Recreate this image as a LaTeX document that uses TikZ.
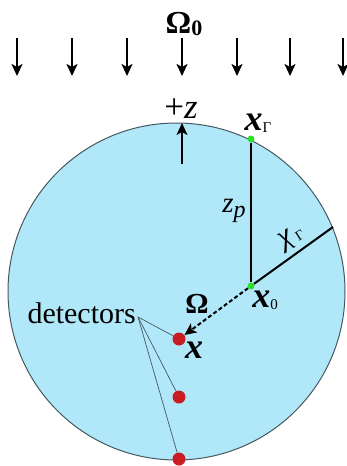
\documentclass[tikz,border=0pt]{standalone}
\usepackage{fontspec}
\setmainfont{Liberation Serif}
\usetikzlibrary{arrows.meta}
\definecolor{water}{RGB}{176,232,250}
\definecolor{rim}{RGB}{70,88,95}
\definecolor{detred}{RGB}{200,30,35}
\definecolor{srcgreen}{RGB}{40,225,40}
\newcommand{\fs}[1]{\fontsize{#1}{#1}\selectfont}
\begin{document}
\begin{tikzpicture}[x=1pt,y=-1pt,
  beam/.style={line width=2pt,-{Stealth[length=12pt,width=11pt,inset=3pt]}},
  pathline/.style={line width=2pt},
  leader/.style={rim,line width=0.7pt},
  srcdot/.style={circle,fill=srcgreen,inner sep=0pt,minimum size=7pt},
  detdot/.style={circle,fill=detred,inner sep=0pt,minimum size=13pt},
  lbl/.style={inner sep=0pt}]
\useasboundingbox (0,0) rectangle (346,466);
\fill[white] (0,0) rectangle (346,466);
% medium
\coordinate (c) at (176.5,291.5);
\draw[rim,line width=1pt,fill=water] (c) circle (168.5);
% incoming beam
\foreach \i/\xx in {1/17,2/72,3/127,4/182,5/237,6/290,7/343}{
  \coordinate (b\i s) at (\xx,38);
  \coordinate (b\i e) at (\xx,76);
  \draw[beam] (b\i s) -- (b\i e);
}
\node[lbl] (om0) at (184,24) {\fs{32}\bfseries Ω\raisebox{-0.05em}{\fs{22}0}};
% +z axis
\coordinate (zs) at (182,164);
\coordinate (ze) at (182,123);
\draw[beam] (zs) -- (ze);
\node[lbl] (plusz) at (181,109) {\fs{35}+\itshape z};
% points
\node[srcdot] (xg) at (251,139) {};
\node[srcdot] (x0) at (251,286) {};
\coordinate (xb) at (333,227);
\node[detdot] (d1) at (179,339) {};
\node[detdot] (d2) at (179,397) {};
\node[detdot] (d3) at (179,459) {};
% paths
\draw[pathline] (xg) -- (x0);
\draw[pathline] (x0) -- (xb);
\draw[pathline,dash pattern=on 4pt off 2.5pt,-{Stealth[length=12pt,width=11pt,inset=3pt]}] (x0) -- (d1);
% labels
\node[lbl] (xgl) at (258,123) {\fs{36}\bfseries\itshape x\raisebox{-0.05em}{\fs{15}\upshape\mdseries Γ}};
\node[lbl] (zpl) at (234,211) {\fs{29}\itshape z\raisebox{-0.15em}{\fs{24}p}};
\node[lbl,rotate=32] (chil) at (292,238) {\fs{30}\itshape χ\kern3pt\raisebox{-0.1em}{\fs{14}\upshape Γ}};
\node[lbl] (x0l) at (265,300) {\fs{36}\bfseries\itshape x\raisebox{-0.05em}{\fs{15}\upshape\mdseries 0}};
\node[lbl] (oml) at (197,304) {\fs{29}\bfseries Ω};
\node[lbl] (xl) at (194,350) {\fs{36}\bfseries\itshape x};
% detectors
\node[lbl,anchor=base east] (detl) at (136,323) {\fs{30}detectors};
\coordinate (lead) at (138,317);
\draw[leader] (lead) -- (d1);
\draw[leader] (lead) -- (d2);
\draw[leader] (lead) -- (d3);
\end{tikzpicture}
\end{document}
